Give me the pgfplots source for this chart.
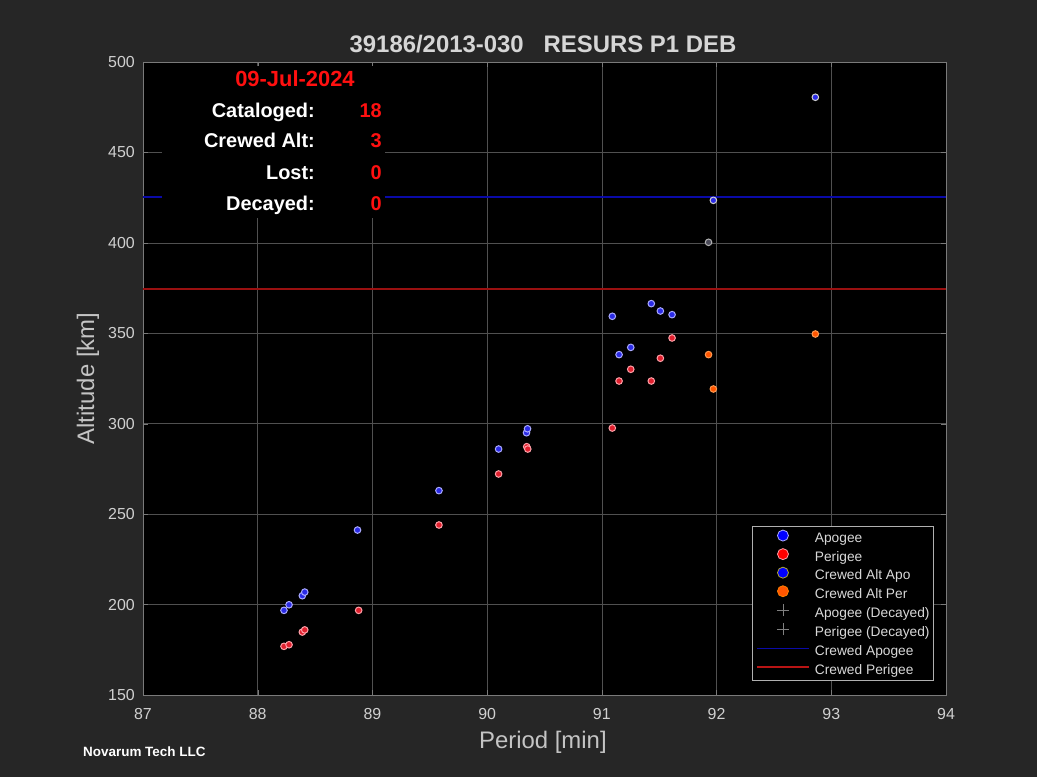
\documentclass[border=0pt]{standalone}
\usepackage{fontspec}
\setmainfont{Liberation Sans}
\usepackage{pgfplots}
\pgfplotsset{compat=1.18}
\definecolor{bg}{HTML}{262626}
\definecolor{gridc}{HTML}{505050}
\definecolor{axc}{HTML}{7A7A7A}
\definecolor{tickc}{HTML}{D0D0D0}
\definecolor{labc}{HTML}{C4C4C4}
\definecolor{titc}{HTML}{D6D6D6}
\definecolor{legc}{HTML}{B0B0B0}
\definecolor{legt}{HTML}{D8D8D8}
\definecolor{apof}{HTML}{2B2BE6}
\definecolor{apod}{HTML}{AAAAFF}
\definecolor{perf}{HTML}{E0202E}
\definecolor{perd}{HTML}{FFA0A8}
\definecolor{cperf}{HTML}{FF5500}
\definecolor{cperd}{HTML}{FF9A50}
\definecolor{capod}{HTML}{D0D0D0}
\definecolor{capo2f}{HTML}{4A4A58}
\definecolor{capo2d}{HTML}{B0B0B0}
\definecolor{cblue}{HTML}{0A0AA8}
\definecolor{cred}{HTML}{9A1010}
\definecolor{lred}{HTML}{B81414}
\definecolor{txtred}{HTML}{FF1010}
\begin{document}
\begin{tikzpicture}
\fill[bg] (-143bp,-82bp) rectangle (894bp,695bp);
\begin{axis}[at={(0,0)}, anchor=south west, scale only axis,
  width=803bp, height=633bp,
  xmin=87, xmax=94, ymin=150, ymax=500,
  xtick={87,88,...,94}, ytick={150,200,...,500},
  axis background/.style={fill=black},
  grid=major, major grid style={draw=gridc, line width=0.7bp},
  axis line style={draw=axc, line width=0.8bp},
  tick style={draw=axc}, tick align=inside, major tick length=5bp,
  /pgf/number format/assume math mode=true,
  ticklabel style={font=\fontsize{16}{19}\selectfont, text=tickc, inner sep=0pt},
  xticklabel style={yshift=-13bp},
  yticklabel style={xshift=-8bp},
  xlabel={Period [min]}, ylabel={Altitude [km]},
  label style={font=\fontsize{24}{28}\selectfont, text=labc},
  xlabel style={at={(axis description cs:0.498,-0.074)}, anchor=center},
  ylabel style={at={(axis description cs:-0.0685,0.5)}, anchor=center},
  legend style={at={(0.985,0.022)}, anchor=south east, fill=black, draw=legc,
    line width=0.8bp, text=legt, font=\fontsize{13.8}{16}\selectfont,
    inner xsep=4bp, inner ysep=3bp, row sep=2.4bp,
    /tikz/every odd column/.append style={column sep=5bp},
    nodes={inner sep=0pt, text height=10.5bp, text depth=3bp}},
  legend cell align=left,
]
% crewed altitude lines
\addplot[cblue, line width=1.8bp, forget plot] coordinates {(87,425.3) (94,425.3)};
\addplot[cred, line width=1.2bp, forget plot] coordinates {(87,374.5) (94,374.5)};
% Apogee
\addplot[only marks, mark=*, mark size=3.3bp, mark options={fill=apof, draw=apod, line width=1bp}, forget plot] coordinates {
(88.229,196.8) (88.273,199.9) (88.389,204.9) (88.410,206.9) (88.870,241.2)
(89.580,263.0) (90.100,286.0) (90.343,295.0) (90.352,297.2) (91.091,359.4)
(91.150,338.2) (91.252,342.2) (91.431,366.4) (91.510,362.3) (91.612,360.3)};
% Perigee
\addplot[only marks, mark=*, mark size=3.3bp, mark options={fill=perf, draw=perd, line width=1bp}, forget plot] coordinates {
(88.229,176.9) (88.273,177.8) (88.389,184.8) (88.410,186.0) (88.880,196.8)
(89.580,244.0) (90.100,272.2) (90.345,287.3) (90.354,286.0) (91.091,297.6)
(91.150,323.6) (91.252,330.1) (91.431,323.6) (91.510,336.2) (91.612,347.4)};
% Crewed Alt Apo
\addplot[only marks, mark=*, mark size=3.3bp, mark options={fill=apof, draw=capod, line width=1bp}, forget plot] coordinates {
(91.972,423.5) (92.861,480.5)};
\addplot[only marks, mark=*, mark size=3.3bp, mark options={fill=capo2f, draw=capo2d, line width=1bp}, forget plot] coordinates {
(91.930,400.3)};
% Crewed Alt Per
\addplot[only marks, mark=*, mark size=3.3bp, mark options={fill=cperf, draw=cperd, line width=1bp}, forget plot] coordinates {
(91.930,338.2) (91.972,319.2) (92.861,349.6)};
% legend
\addlegendimage{legend image code/.code={\draw[fill=blue, draw=apod, line width=0.8bp] (26bp,3.5bp) circle (5.5bp);}}
\addlegendentry{Apogee}
\addlegendimage{legend image code/.code={\draw[fill=red, draw=perd, line width=0.8bp] (26bp,3.5bp) circle (5.5bp);}}
\addlegendentry{Perigee}
\addlegendimage{legend image code/.code={\draw[fill=blue, draw=olive!70!white, line width=0.8bp] (26bp,3.5bp) circle (5.5bp);}}
\addlegendentry{Crewed Alt Apo}
\addlegendimage{legend image code/.code={\draw[fill=cperf, draw=orange, line width=0.8bp] (26bp,3.5bp) circle (5.5bp);}}
\addlegendentry{Crewed Alt Per}
\addlegendimage{legend image code/.code={\path (0bp,-2.5bp) rectangle (52bp,9.5bp); \draw[gray, line width=0.7bp] (20bp,3.5bp)--(32bp,3.5bp) (26bp,-2.5bp)--(26bp,9.5bp);}}
\addlegendentry{Apogee (Decayed)}
\addlegendimage{legend image code/.code={\path (0bp,-2.5bp) rectangle (52bp,9.5bp); \draw[gray, line width=0.7bp] (20bp,3.5bp)--(32bp,3.5bp) (26bp,-2.5bp)--(26bp,9.5bp);}}
\addlegendentry{Perigee (Decayed)}
\addlegendimage{legend image code/.code={\path (0bp,-2.5bp) rectangle (52bp,9.5bp); \draw[draw=cblue, line width=1.7bp] (0bp,3.5bp)--(52bp,3.5bp);}}
\addlegendentry{Crewed Apogee}
\addlegendimage{legend image code/.code={\path (0bp,-2.5bp) rectangle (52bp,9.5bp); \draw[draw=lred, line width=1.9bp] (0bp,3.5bp)--(52bp,3.5bp);}}
\addlegendentry{Crewed Perigee}
\end{axis}
% black box behind the statistics
\fill[black] (19bp,477bp) rectangle (242bp,629bp);
% title and annotations
\node[anchor=base, inner sep=0pt, font=\bfseries\fontsize{24}{28}\selectfont, text=titc] at (400bp,642.7bp) {39186/2013-030~~~RESURS P1 DEB};
\node[anchor=base, inner sep=0pt, font=\bfseries\fontsize{22}{26}\selectfont, text=txtred] at (152bp,608.3bp) {09-Jul-2024};
\begin{scope}[every node/.style={inner sep=0pt, font=\bfseries\fontsize{20}{24}\selectfont}]
\node[anchor=base east, text=white] at (172bp,577.7bp) {Cataloged:};
\node[anchor=base east, text=white] at (172bp,547bp) {Crewed Alt:};
\node[anchor=base east, text=white] at (172bp,515.7bp) {Lost:};
\node[anchor=base east, text=white] at (172bp,484.3bp) {Decayed:};
\node[anchor=base east, text=txtred] at (239bp,577.7bp) {18};
\node[anchor=base east, text=txtred] at (239bp,547bp) {3};
\node[anchor=base east, text=txtred] at (239bp,515.7bp) {0};
\node[anchor=base east, text=txtred] at (239bp,484.3bp) {0};
\end{scope}
\node[anchor=base west, inner sep=0pt, font=\bfseries\fontsize{13.5}{16}\selectfont, text=white] at (-60bp,-61bp) {Novarum Tech LLC};
\end{tikzpicture}
\end{document}
